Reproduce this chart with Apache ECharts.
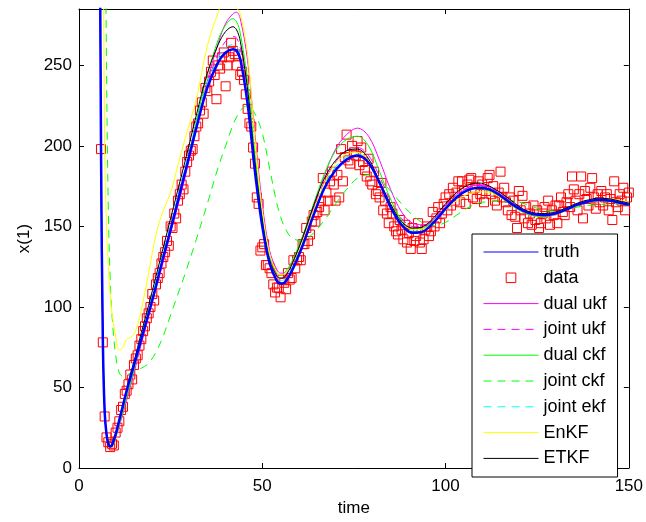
<!DOCTYPE html>
<html>
<head>
<meta charset="utf-8">
<script src="https://cdn.jsdelivr.net/npm/echarts@6/dist/echarts.min.js"></script>
<style>html,body{margin:0;padding:0;background:#fff}#chart{width:646px;height:522px}</style>
</head>
<body>
<div id="chart"></div>
<script>
// time grid shared by the filter curves
var tLine = [5.5, 6, 6.5, 7, 7.5, 8, 8.5, 9,
  10, 11, 12, 13, 14, 15, 16, 17,
  19, 21, 23, 25, 27, 29,
  32, 35, 38, 40, 42, 43, 44, 46, 48, 50, 52, 54, 55, 56, 58,
  61, 64, 67, 70, 73, 76, 79, 82, 85, 88, 91, 94, 97, 100, 103, 106, 109, 112, 115, 118,
  121, 124, 127, 130, 133, 136, 139, 142, 145, 148, 150];

var truth = [450, 200, 80, 35, 21, 15, 13.5, 14.5,
  21, 30, 39, 48, 56, 64, 72, 80,
  96, 113, 131, 148, 166, 184,
  211, 236, 252, 258, 260, 259, 254, 226, 184, 150, 127, 116, 114.5, 115, 122,
  138, 157, 174, 185, 191.5, 194, 189.5, 177, 162, 151, 146, 147, 153, 161, 168, 172.5, 174, 173, 169, 164,
  160, 157.5, 157, 158, 160.5, 163.5, 165.5, 166.5, 166, 164.5, 163.5];

var dualUkf = [450, 200, 80, 36, 22, 16, 14, 14,
  19, 26, 34, 42, 51, 59, 68, 77,
  94, 111, 128, 146, 163, 181,
  210, 240, 264, 276, 282, 283, 279, 253, 207, 164, 135, 123, 121, 121, 127,
  142, 162, 182, 198, 207, 211, 206, 191, 173, 159, 152, 151, 155, 162, 169, 174, 176, 174.5, 170, 165,
  160.5, 157.5, 156.5, 157.5, 160.5, 164, 166, 167, 166.5, 165, 164];

var jointUkf = [450, 200, 81, 36, 22, 16, 14, 14.5,
  20, 28, 37, 46, 54, 63, 71, 79,
  96, 113, 131, 149, 167, 185,
  213, 239, 257, 265, 268, 267, 261, 233, 190, 155, 131, 120, 118.5, 119, 126,
  142, 161, 178, 190, 197, 199, 194, 181, 166, 155, 150, 150, 155, 163, 170, 174, 175.5, 174, 170, 165,
  161, 158, 157.5, 158.5, 161, 164, 166, 167, 166.5, 165, 164];

var dualCkf = [450, 200, 82, 37, 22, 17, 14, 14,
  19, 27, 35, 44, 52, 61, 70, 79,
  96, 114, 131, 149, 167, 185,
  215, 244, 266, 275, 279, 277, 270, 240, 195, 157, 132, 121, 120, 121, 128,
  144, 164, 183, 197, 204, 206, 200, 184, 167, 154, 148.5, 149, 154, 161, 168, 172, 173.5, 172, 168, 163,
  159, 156.5, 156, 157.5, 160, 163, 165, 166, 165.5, 164, 163];

var jointCkf = [null, null, null, 400, 250, 160, 118, 95,
  70, 59, 57, 57.5, 59, 60, 61, 62,
  65, 72, 82, 95, 108, 121,
  142, 164, 187, 200, 213, 218, 222, 225, 220, 208, 186, 164, 156, 150, 143,
  141, 146, 154, 164, 173, 180, 182, 178.5, 172, 164, 157, 152, 150.5, 152.5, 157, 161.5, 164.5, 165.5, 166, 166,
  164.5, 162, 160, 159.5, 160.5, 162, 163, 163.5, 164, 164, 164];

var jointEkf = [450, 205, 82, 36, 21, 15, 13.5, 14.5,
  21, 30, 40, 49, 57, 66, 74, 82,
  99, 116, 134, 151, 169, 187,
  214, 239, 255, 261, 263, 262, 256, 228, 187, 153, 129, 118, 116.5, 117, 124,
  140, 159, 176, 187, 193, 195, 190.5, 178, 163, 152, 147, 148, 154, 162, 169, 173, 174.5, 173.5, 169.5, 164.5,
  160.5, 158, 157.5, 158.5, 161, 164, 166, 167, 166.5, 165, 164];

var enkf = [null, null, 400, 200, 150, 125, 108, 96,
  82, 73, 75, 80, 81, 83, 89, 98,
  121, 145, 160, 171, 188, 205,
  229, 262, 283, 294, 293, 286, 282, 257, 204, 160, 133, 121.5, 120, 120.5, 126,
  141, 160, 177, 189, 195, 196, 191, 178, 164, 153, 148, 148.5, 153, 160, 166, 170, 171.5, 171, 168, 163.5,
  159.5, 157, 156.5, 157.5, 160, 163, 165.5, 167, 167, 166, 165];

var etkf = [450, 200, 80, 35, 20, 15, 13, 13.5,
  20, 29, 38, 48, 58, 66, 75, 84,
  101, 119, 137, 155, 173, 191,
  219, 245, 263, 271, 274, 272, 265, 235, 190, 154, 129, 119, 118, 118.5, 126,
  143, 163, 180, 191, 197, 198, 192, 178, 164, 153, 149, 150, 156, 164, 171, 175.5, 177, 175, 171, 166,
  161, 158.5, 158, 159, 161.5, 164.5, 166.5, 167.5, 167, 165.5, 164.5];

// measurements, one every 0.5 time units starting at t = 6
var dataStart = 6, dataStep = 0.5;
var dataVals = [
  198, 78, 32, 19, 16, 13, 15, 14, 22, 25,
  29, 36, 38, 46, 48, 52, 58, 55, 64, 68,
  70, 76, 80, 85, 88, 93, 96, 100, 108, 104,
  114, 118, 121, 127, 131, 134, 141, 138, 150, 149,
  158, 155, 166, 170, 176, 173, 184, 190, 194, 197,
  198, 206, 212, 214, 222, 227, 220, 236, 234, 240,
  246, 253, 244, 229, 250, 248, 255, 258, 237, 250,
  255, 264, 259, 257, 250, 256, 244, 246, 241, 232,
  223, 214, 212, 199, 189, 168, 164, 135, 137, 139,
  126, 126, 124, 121, 114, 109, 112, 112, 106, 117,
  115, 111, 121, 117, 118, 129, 124, 129, 131, 129,
  139, 139, 149, 141, 145, 153, 157, 153, 159, 162,
  166, 180, 160, 171, 166, 178, 184, 176, 166, 182,
  168, 198, 178, 193, 207, 191, 189, 200, 196, 194,
  203, 188, 199, 190, 185, 181, 192, 178, 176, 184,
  170, 172, 168, 177, 160, 166, 158, 152, 162, 158,
  150, 147, 145, 154, 148, 142, 151, 140, 146, 136,
  149, 141, 144, 152, 140, 136, 142, 148, 150, 144,
  147, 159, 150, 155, 162, 152, 158, 164, 168, 160,
  170, 163, 174, 166, 171, 178, 165, 178, 172, 164,
  176, 179, 180, 168, 174, 167, 178, 170, 176, 165,
  172, 180, 182, 170, 175, 166, 163, 171, 184, 168,
  174, 165, 160, 168, 157, 166, 156, 149, 172, 160,
  169, 155, 162, 152, 158, 151, 163, 154, 160, 149,
  152, 158, 162, 155, 166, 151, 160, 157, 163, 152,
  163, 168, 159, 157, 165, 170, 162, 181, 173, 166,
  160, 170, 181, 155, 172, 167, 163, 174, 180, 168,
  161, 170, 165, 172, 163, 168, 170, 160, 167, 154,
  178, 165, 162, 170, 166, 174, 160, 168, 171
];

var font = 'Liberation Sans, Arial, Helvetica, sans-serif';

function pairs(vals) {
  return tLine.map(function (t, i) { return [t, vals[i] == null ? '-' : vals[i]]; });
}
function curve(name, vals, color, dashed, width, z) {
  return {
    name: name, type: 'line', data: pairs(vals), symbol: 'none', smooth: 0.35,
    lineStyle: { color: color, width: width, type: dashed ? [8, 6] : 'solid' },
    itemStyle: { color: color }, z: z, silent: true
  };
}

var axisBase = {
  axisLine: { onZero: false, lineStyle: { color: '#000', width: 1 } },
  axisTick: { inside: true, length: 5, lineStyle: { color: '#000' } },
  splitLine: { show: false }
};

var myChart = echarts.init(document.getElementById('chart'));
var option = {
  animation: false,
  grid: { left: 79, right: 16, top: 9, bottom: 50, containLabel: false },
  legend: {
    left: 472, top: 234, orient: 'vertical',
    padding: [9, 11, 9.6, 11], itemGap: 7.8, itemWidth: 55, itemHeight: 12,
    backgroundColor: '#fff', borderColor: '#000', borderWidth: 1, borderRadius: 0,
    textStyle: { fontFamily: font, fontSize: 18, lineHeight: 18, color: '#000' },
    lineStyle: { width: 1 },
    itemStyle: { opacity: 0 },
    selectedMode: false,
    data: ['truth',
      { name: 'data', itemStyle: { opacity: 1, color: 'rgba(0,0,0,0)', borderColor: '#ff0000', borderWidth: 1 } },
      'dual ukf', 'joint ukf', 'dual ckf', 'joint ckf', 'joint ekf', 'EnKF', 'ETKF']
  },
  xAxis: [
    Object.assign({
      type: 'value', min: 0, max: 150, interval: 50, position: 'bottom',
      name: 'time', nameLocation: 'middle', nameGap: 32,
      nameTextStyle: { fontFamily: font, fontSize: 17, color: '#000' },
      axisLabel: { fontFamily: font, fontSize: 17, color: '#000', margin: 10 }
    }, axisBase),
    Object.assign({
      type: 'value', min: 0, max: 150, interval: 50, position: 'top',
      axisLabel: { show: false }
    }, axisBase)
  ],
  yAxis: [
    Object.assign({
      type: 'value', min: 0, max: 285, interval: 50, position: 'left',
      name: 'x(1)', nameLocation: 'middle', nameGap: 46,
      nameTextStyle: { fontFamily: font, fontSize: 17, color: '#000' },
      axisLabel: { fontFamily: font, fontSize: 17, color: '#000', margin: 7, showMaxLabel: false }
    }, axisBase),
    Object.assign({
      type: 'value', min: 0, max: 285, interval: 50, position: 'right',
      axisLabel: { show: false }
    }, axisBase)
  ],
  series: [
    curve('truth', truth, '#0000ff', false, 2.5, 10),
    {
      // drawn as a line series with hidden line so the legend shows a single square
      name: 'data', type: 'line', symbol: 'rect', symbolSize: 9, showSymbol: true, showAllSymbol: true,
      z: 1, silent: true,
      data: dataVals.map(function (v, i) { return [dataStart + i * dataStep, v]; }),
      lineStyle: { width: 0, opacity: 0 },
      itemStyle: { color: 'rgba(0,0,0,0)', borderColor: '#ff0000', borderWidth: 1 }
    },
    curve('dual ukf', dualUkf, '#ff00ff', false, 1, 3),
    curve('joint ukf', jointUkf, '#ff00ff', true, 1, 3),
    curve('dual ckf', dualCkf, '#00ff00', false, 1, 3),
    curve('joint ckf', jointCkf, '#00ff00', true, 1, 3),
    curve('joint ekf', jointEkf, '#00ffff', true, 1, 3),
    curve('EnKF', enkf, '#ffff00', false, 1, 3),
    curve('ETKF', etkf, '#000000', false, 1, 3)
  ]
};
myChart.setOption(option);
</script>
</body>
</html>
